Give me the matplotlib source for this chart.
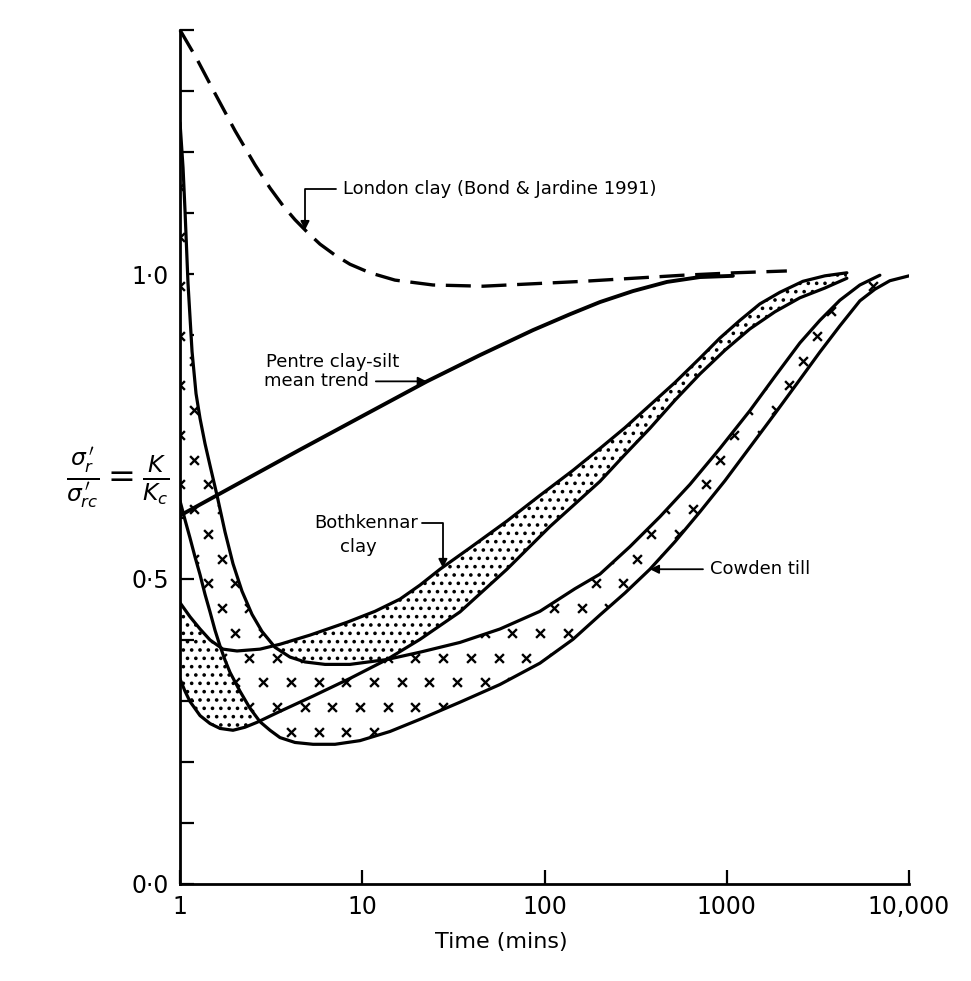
import numpy as np
import matplotlib.pyplot as plt

# =========================
# DATA : time in mins, sigma'_r / sigma'_rc
# =========================
london_t = [1, 1.240, 1.556, 2.003, 2.579, 3.117, 3.673, 4.274, 4.974, 5.861, 7.086,
            8.561, 11.02, 15.11, 24.43, 45.92, 86.40, 162.4, 305.5, 574.3, 1108, 2136]
london_k = [1.400, 1.352, 1.296, 1.235, 1.179, 1.141, 1.112, 1.089, 1.069, 1.049, 1.031,
            1.016, 1.002, 0.990, 0.982, 0.980, 0.984, 0.988, 0.993, 0.998, 1.002, 1.005]

pentre_t = [1, 2.133, 4.553, 9.714, 22.64, 44.22, 86.40, 137.8, 201.4, 305.5, 469.4, 711.8, 1080]
pentre_k = [0.604, 0.658, 0.712, 0.765, 0.824, 0.867, 0.908, 0.934, 0.954, 0.972, 0.987, 0.995, 0.997]

bk_up_t = [1, 1.135, 1.288, 1.461, 1.722, 2.054, 2.747, 3.536, 5.166, 8.243, 11.74, 16.10,
           20.73, 26.69, 38.97, 62.20, 94.36, 143.1, 201.4, 276.1, 378.6, 519.2, 711.8,
           916.8, 1180, 1519, 1956, 2615, 3452, 4559]
bk_up_k = [0.461, 0.438, 0.418, 0.400, 0.385, 0.382, 0.385, 0.393, 0.408, 0.429, 0.447, 0.467,
           0.490, 0.516, 0.551, 0.595, 0.637, 0.678, 0.714, 0.748, 0.785, 0.822, 0.862,
           0.895, 0.924, 0.951, 0.970, 0.988, 0.997, 1.002]

bk_lo_t = [1, 1.065, 1.135, 1.288, 1.461, 1.658, 1.953, 2.273, 2.644, 3.536, 5.366, 8.561,
           13.66, 20.73, 34.35, 62.20, 107.1, 201.4, 276.1, 378.6, 519.2, 711.8, 976.3,
           1339, 1836, 2518, 3452, 4559]
bk_lo_k = [0.336, 0.316, 0.299, 0.276, 0.263, 0.255, 0.252, 0.257, 0.265, 0.283, 0.308, 0.337,
           0.368, 0.401, 0.446, 0.516, 0.586, 0.660, 0.704, 0.747, 0.793, 0.836, 0.875,
           0.910, 0.938, 0.961, 0.977, 0.993]

cow_up_t = [1, 1.039, 1.065, 1.106, 1.164, 1.224, 1.288, 1.371, 1.461, 1.596, 1.766, 1.953,
            2.188, 2.483, 2.817, 3.320, 4.012, 4.850, 6.244, 8.561, 13.66, 20.73, 34.35,
            56.92, 94.36, 146.8, 201.4, 294.1, 429.6, 627.7, 916.8, 1339, 1836, 2518, 3241,
            4173, 5372, 6917]
cow_up_k = [1.248, 1.174, 1.104, 0.985, 0.873, 0.804, 0.763, 0.722, 0.686, 0.637, 0.577, 0.525,
            0.480, 0.442, 0.414, 0.388, 0.372, 0.364, 0.360, 0.360, 0.368, 0.380, 0.396,
            0.418, 0.447, 0.484, 0.508, 0.553, 0.602, 0.655, 0.714, 0.776, 0.832, 0.887, 0.924,
            0.957, 0.982, 0.998]

cow_lo_t = [1, 1.065, 1.135, 1.209, 1.288, 1.371, 1.461, 1.556, 1.658, 1.766, 1.880, 2.133,
            2.421, 2.747, 3.117, 3.536, 4.274, 5.366, 7.086, 9.714, 14.19, 20.73, 34.35,
            56.92, 94.36, 143.1, 201.4, 276.1, 378.6, 519.2, 711.8, 976.3, 1339, 1836, 2518,
            3241, 4173, 5372, 6493, 7847, 10000]
cow_lo_k = [0.628, 0.597, 0.567, 0.536, 0.507, 0.475, 0.446, 0.416, 0.390, 0.367, 0.347, 0.316,
            0.288, 0.266, 0.252, 0.240, 0.232, 0.229, 0.229, 0.235, 0.250, 0.270, 0.298,
            0.327, 0.362, 0.401, 0.441, 0.477, 0.516, 0.561, 0.610, 0.661, 0.716, 0.771, 0.827,
            0.872, 0.915, 0.956, 0.975, 0.989, 0.997]

x_ticks = [1, 10, 100, 1000, 10000]
x_labels = ["1", "10", "100", "1000", "10,000"]
y_ticks = [round(0.1 * i, 1) for i in range(15)]
y_labels = {0.0: "0·0", 0.5: "0·5", 1.0: "1·0"}

# =========================
# FIGURE
# =========================
plt.rcParams['font.family'] = ['DejaVu Sans']
plt.rcParams['hatch.linewidth'] = 1.4
plt.rcParams['mathtext.fontset'] = 'dejavusans'

fig = plt.figure(figsize=(9.71, 9.81), dpi=100)
ax = fig.add_axes([0.1854, 0.0989, 0.7508, 0.8705])
ax.set_xscale('log')
ax.set_xlim(1, 10000)
ax.set_ylim(0, 1.4)

# Bothkennar band (stipple)
bk_x = bk_up_t + bk_lo_t[::-1]
bk_y = bk_up_k + bk_lo_k[::-1]
ax.fill(bk_x, bk_y, facecolor='white', edgecolor='black', hatch='..', linewidth=0, zorder=1)

# Cowden band (crosses) drawn over it
cw_x = cow_up_t + cow_lo_t[::-1]
cw_y = cow_up_k + cow_lo_k[::-1]
cw_patch = ax.fill(cw_x, cw_y, facecolor='white', edgecolor='none', linewidth=0, zorder=2)[0]

gx, gy = [], []
for i, yy in enumerate(np.arange(0.004, 1.0, 0.029)):
    off = 0.0 if i % 2 == 0 else 0.019
    for xx in np.arange(off, 1.0, 0.038):
        gx.append(xx)
        gy.append(yy)
crosses = ax.scatter(gx, gy, marker='x', s=40, c='black', linewidths=1.7,
                     transform=ax.transAxes, zorder=3)
crosses.set_clip_path(cw_patch)

# curves
ax.plot(london_t, london_k, color='black', lw=2.4, dashes=(7.5, 3.2), zorder=4, clip_on=False)
ax.plot(pentre_t, pentre_k, color='black', lw=2.8, zorder=4, solid_capstyle='round')
for t, k in [(bk_up_t, bk_up_k), (bk_lo_t, bk_lo_k), (cow_up_t, cow_up_k), (cow_lo_t, cow_lo_k)]:
    ax.plot(t, k, color='black', lw=2.3, zorder=4, solid_capstyle='round', solid_joinstyle='round')

# labels with leaders
fs = 13
arrow = dict(arrowstyle='-|>', color='black', lw=1.3, mutation_scale=13, shrinkB=0)
ax.annotate("London clay (Bond & Jardine 1991)", xy=(4.85, 1.072), xytext=(7.84, 1.139),
            ha='left', va='center', fontsize=fs,
            arrowprops=dict(arrow, connectionstyle='angle,angleA=0,angleB=90,rad=0',
                            relpos=(0, 0.5), shrinkA=3))
ax.text(2.96, 0.855, "Pentre clay-silt", ha='left', va='center', fontsize=fs)
ax.annotate("mean trend", xy=(22.6, 0.824), xytext=(2.89, 0.824),
            ha='left', va='center', fontsize=fs,
            arrowprops=dict(arrow, relpos=(1, 0.5), shrinkA=3))
ax.annotate("Bothkennar", xy=(27.7, 0.518), xytext=(20.2, 0.592),
            ha='right', va='center', fontsize=fs,
            arrowprops=dict(arrow, connectionstyle='angle,angleA=0,angleB=90,rad=0',
                            relpos=(1, 0.5), shrinkA=1))
ax.text(9.47, 0.553, "clay", ha='center', va='center', fontsize=fs)
ax.annotate("Cowden till", xy=(378.6, 0.516), xytext=(808, 0.516),
            ha='left', va='center', fontsize=fs,
            arrowprops=dict(arrow, relpos=(0, 0.5), shrinkA=3))

# axes styling
for s in ['top', 'right']:
    ax.spines[s].set_visible(False)
for s in ['left', 'bottom']:
    ax.spines[s].set_linewidth(2.0)

ax.set_xticks(x_ticks)
ax.set_xticklabels(x_labels)
ax.minorticks_off()
ax.set_yticks(y_ticks)
ax.set_yticklabels([y_labels.get(v, "") for v in y_ticks])
ax.tick_params(direction='in', length=10, width=1.6, labelsize=17, pad=8)

fig.text(501 / 971, 1 - 942 / 981, "Time (mins)", ha='center', va='center', fontsize=16)
fig.text(118 / 971, 1 - 478 / 981,
         r"$\frac{\sigma_r^{\,\prime}}{\sigma_{rc}^{\,\prime}} = \frac{K}{K_c}$",
         ha='center', va='center', fontsize=24)

fig.savefig("out.png", dpi=100)
